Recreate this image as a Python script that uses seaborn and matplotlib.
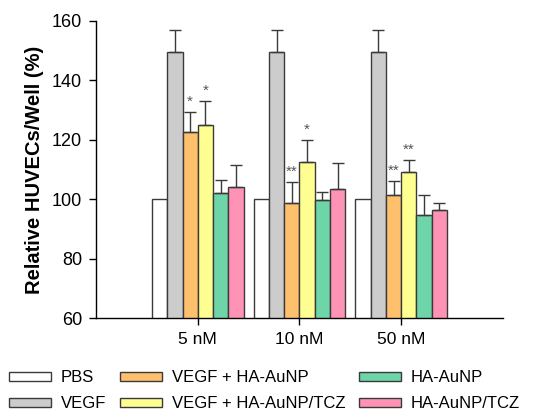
import numpy as np
import pandas as pd
import matplotlib
matplotlib.use("Agg")
import matplotlib.pyplot as plt
import seaborn as sns
from matplotlib.patches import Patch

# Data
concs = ["5 nM", "10 nM", "50 nM"]
groups = ["PBS", "VEGF", "VEGF + HA-AuNP", "VEGF + HA-AuNP/TCZ", "HA-AuNP", "HA-AuNP/TCZ"]
pbs = [100, 100, 100]
vegf = [149.7, 149.7, 149.7]
vegf_np = [122.6, 98.8, 101.4]
vegf_np_tcz = [125.1, 112.4, 109.1]
np_only = [102.2, 99.6, 94.7]
np_tcz = [104.2, 103.3, 96.3]

err_pbs = [0, 0, 0]
err_vegf = [7.3, 7.3, 7.3]
err_vegf_np = [6.7, 7.0, 4.6]
err_vegf_np_tcz = [8.0, 7.4, 4.1]
err_np_only = [4.3, 2.9, 6.6]
err_np_tcz = [7.2, 8.9, 2.5]

stars_vegf_np = ["*", "**", "**"]
stars_vegf_np_tcz = ["*", "*", "**"]

colors = ["#ffffff", "#cccccc", "#ffc06e", "#ffff91", "#6dd5a8", "#ff93b6"]

values = [pbs, vegf, vegf_np, vegf_np_tcz, np_only, np_tcz]
errors = [err_pbs, err_vegf, err_vegf_np, err_vegf_np_tcz, err_np_only, err_np_tcz]

rows = []
for g, vals, errs in zip(groups, values, errors):
    for c, v, e in zip(concs, vals, errs):
        rows.append({"conc": c, "group": g, "value": v, "err": e})
df = pd.DataFrame(rows)

sns.set_style("ticks")
plt.rcParams["font.family"] = ["Liberation Sans", "DejaVu Sans"]
plt.rcParams["text.color"] = "black"
plt.rcParams["axes.labelcolor"] = "black"

fig = plt.figure(figsize=(5.43, 4.11), dpi=100)
ax = fig.add_axes([0.177, 0.226, 0.749, 0.723])

sns.barplot(data=df, x="conc", y="value", hue="group", order=concs, hue_order=groups,
            palette=colors, saturation=1, width=0.9, gap=0, errorbar=None,
            edgecolor="#3a3a3a", linewidth=1.0, ax=ax, legend=False)

# error bars (upper only) and significance marks
for gi, g in enumerate(groups):
    cont = ax.containers[gi]
    for ci, bar in enumerate(cont):
        x = bar.get_x() + bar.get_width() / 2
        top = bar.get_height()
        e = errors[gi][ci]
        if e > 0:
            ax.errorbar(x, top, yerr=[[0], [e]], fmt="none", ecolor="#3a3a3a",
                        elinewidth=1.0, capsize=4, capthick=1.0, zorder=3)
        star = None
        if g == "VEGF + HA-AuNP":
            star = stars_vegf_np[ci]
        elif g == "VEGF + HA-AuNP/TCZ":
            star = stars_vegf_np_tcz[ci]
        if star:
            ax.text(x, top + e + 1.2, star, ha="center", va="bottom",
                    fontsize=11, color="#555555")

ax.set_ylim(60, 160)
ax.set_yticks([60, 80, 100, 120, 140, 160])
ax.set_xlim(-1, 3)
ax.set_xlabel("")
ax.set_ylabel("Relative HUVECs/Well (%)", fontsize=14.5, fontweight="bold", labelpad=6)
ax.tick_params(axis="y", labelsize=13, length=5, width=1, pad=5, colors="black")
ax.tick_params(axis="x", labelsize=12.5, length=5, width=1, pad=5, colors="black")
sns.despine(ax=ax)
for s in ["left", "bottom"]:
    ax.spines[s].set_linewidth(1.0)
    ax.spines[s].set_color("black")

handles = [Patch(facecolor=c, edgecolor="#3a3a3a", linewidth=1.0) for c in colors]
fig.legend(handles, groups, loc="lower left", bbox_to_anchor=(-0.002, -0.025), ncol=3,
           frameon=False, fontsize=12, handlelength=2.5, handleheight=0.5,
           handletextpad=0.6, columnspacing=0.85, labelspacing=0.65, borderaxespad=0.2)

fig.savefig("out.png", dpi=100)
